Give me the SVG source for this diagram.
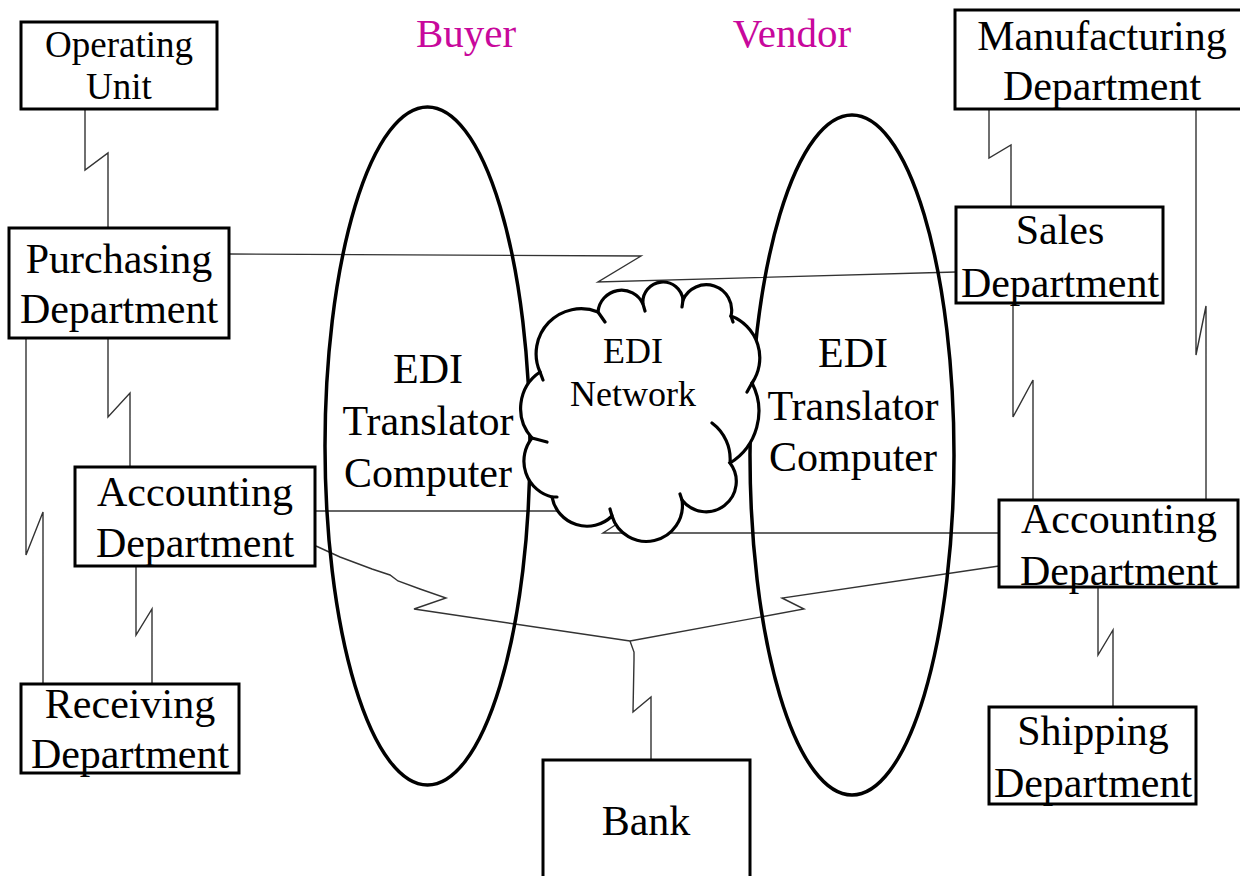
<svg xmlns="http://www.w3.org/2000/svg" width="1240" height="876" viewBox="0 0 1240 876">
<style>
.box{fill:#fff;stroke:#000;stroke-width:3}
.t{font-family:"Liberation Serif","Times New Roman",serif;font-size:42px;fill:#000;text-anchor:middle}
.s{font-size:37px}
.c{fill:none;stroke:#333;stroke-width:1.4;stroke-linejoin:miter}
.ell{fill:none;stroke:#000;stroke-width:3.5}
.cloud{fill:#fff;stroke:#000;stroke-width:3.2}
.tail{fill:none;stroke:#000;stroke-width:3.2;stroke-linecap:round}
.lab{font-family:"Liberation Serif","Times New Roman",serif;font-size:41px;fill:#C8089C;text-anchor:middle}
</style>
<rect width="1240" height="876" fill="#fff"/>
<text class="lab" x="466" y="47">Buyer</text>
<text class="lab" x="792" y="47">Vendor</text>
<g id="connectors">
<path class="c" d="M85,109 V170 L108,153 V228"/>
<path class="c" d="M108,338 V417 L130,393 V467"/>
<path class="c" d="M26,338 V555 L43,512 V684"/>
<path class="c" d="M136,566 V635 L152,609 V684"/>
<path class="c" d="M229,254 L641,256 L598,282 L956,272"/>
<path class="c" d="M315,511 H570"/>
<path class="c" d="M316,546 L340,557 L372,569 L390,575 L398,581 L420,589 L446,598 L414,609 L630,641"/>
<path class="c" d="M999,566 L782,598 L804,609 L630,641"/>
<path class="c" d="M630,641 L634,652 L634,660 L633,712 L651,697 V760"/>
<path class="c" d="M989,109 V158 L1011,145 V207"/>
<path class="c" d="M1196,109 V355 L1206,306 V500"/>
<path class="c" d="M1013,303 V417 L1033,380 V500"/>
<path class="c" d="M999,533 H603 L620,522"/>
<path class="c" d="M1098,587 V655 L1113,630 V707"/>
</g>
<g id="buyer-translator">
<ellipse class="ell" cx="427.5" cy="446" rx="102.5" ry="339"/>
<text class="t" x="428" y="383">EDI</text>
<text class="t" x="428" y="435">Translator</text>
<text class="t" x="428" y="487">Computer</text>
</g>
<g id="vendor-translator">
<ellipse class="ell" cx="852" cy="455" rx="102" ry="340"/>
<text class="t" x="853" y="367">EDI</text>
<text class="t" x="853" y="420">Translator</text>
<text class="t" x="853" y="471">Computer</text>
</g>
<g id="edi-network">
<path class="cloud" d="M540,372 A45,45 0 0 1 598,312 A23.6,23.6 0 0 1 643,304 A20.1,20.1 0 0 1 683,300 A25.4,25.4 0 0 1 731,316 A44.7,44.7 0 0 1 752,383 A61,61 0 0 1 730,463 A30.3,30.3 0 0 1 682,500 A36,36 0 0 1 612,516 A35.6,35.6 0 0 1 552,497 A37,37 0 0 1 532,438 A44,44 0 0 1 540,372 Z"/>
<path class="tail" d="M540,372 L543,380 M598,312 L605,322 M643,304 L645,311 M683,300 L682,307 M731,316 L733,322 M752,383 L747,392 M712,423 A45,45 0 0 1 730,463 M682,500 L680,494 M612,516 L610,509 M552,497 L557,497 M532,438 L547,442"/>
<text class="t" x="633" y="363" style="font-size:36px">EDI</text>
<text class="t" x="633" y="406" style="font-size:36px">Network</text>
</g>
<g id="operating-unit">
<rect class="box" x="21" y="22" width="196" height="87"/>
<text class="t s" x="119" y="57">Operating</text>
<text class="t s" x="119" y="99">Unit</text>
</g>
<g id="purchasing">
<rect class="box" x="9" y="228" width="220" height="110"/>
<text class="t" x="119" y="273">Purchasing</text>
<text class="t" x="119" y="323">Department</text>
</g>
<g id="accounting-buyer">
<rect class="box" x="75" y="467" width="240" height="99"/>
<text class="t" x="195" y="506">Accounting</text>
<text class="t" x="195" y="557">Department</text>
</g>
<g id="receiving">
<rect class="box" x="21" y="684" width="218" height="89"/>
<text class="t" x="130" y="718">Receiving</text>
<text class="t" x="130" y="768">Department</text>
</g>
<g id="bank">
<rect class="box" x="543" y="760" width="207" height="130"/>
<text class="t" x="646" y="835">Bank</text>
</g>
<g id="manufacturing">
<rect class="box" x="955" y="10" width="300" height="99"/>
<text class="t" x="1102" y="50">Manufacturing</text>
<text class="t" x="1102" y="100">Department</text>
</g>
<g id="sales">
<rect class="box" x="956" y="207" width="207" height="96"/>
<text class="t" x="1060" y="244">Sales</text>
<text class="t" x="1060" y="297">Department</text>
</g>
<g id="accounting-vendor">
<rect class="box" x="999" y="500" width="239" height="87"/>
<text class="t" x="1119" y="533">Accounting</text>
<text class="t" x="1119" y="585">Department</text>
</g>
<g id="shipping">
<rect class="box" x="989" y="707" width="207" height="97"/>
<text class="t" x="1093" y="745">Shipping</text>
<text class="t" x="1093" y="797">Department</text>
</g>
</svg>
